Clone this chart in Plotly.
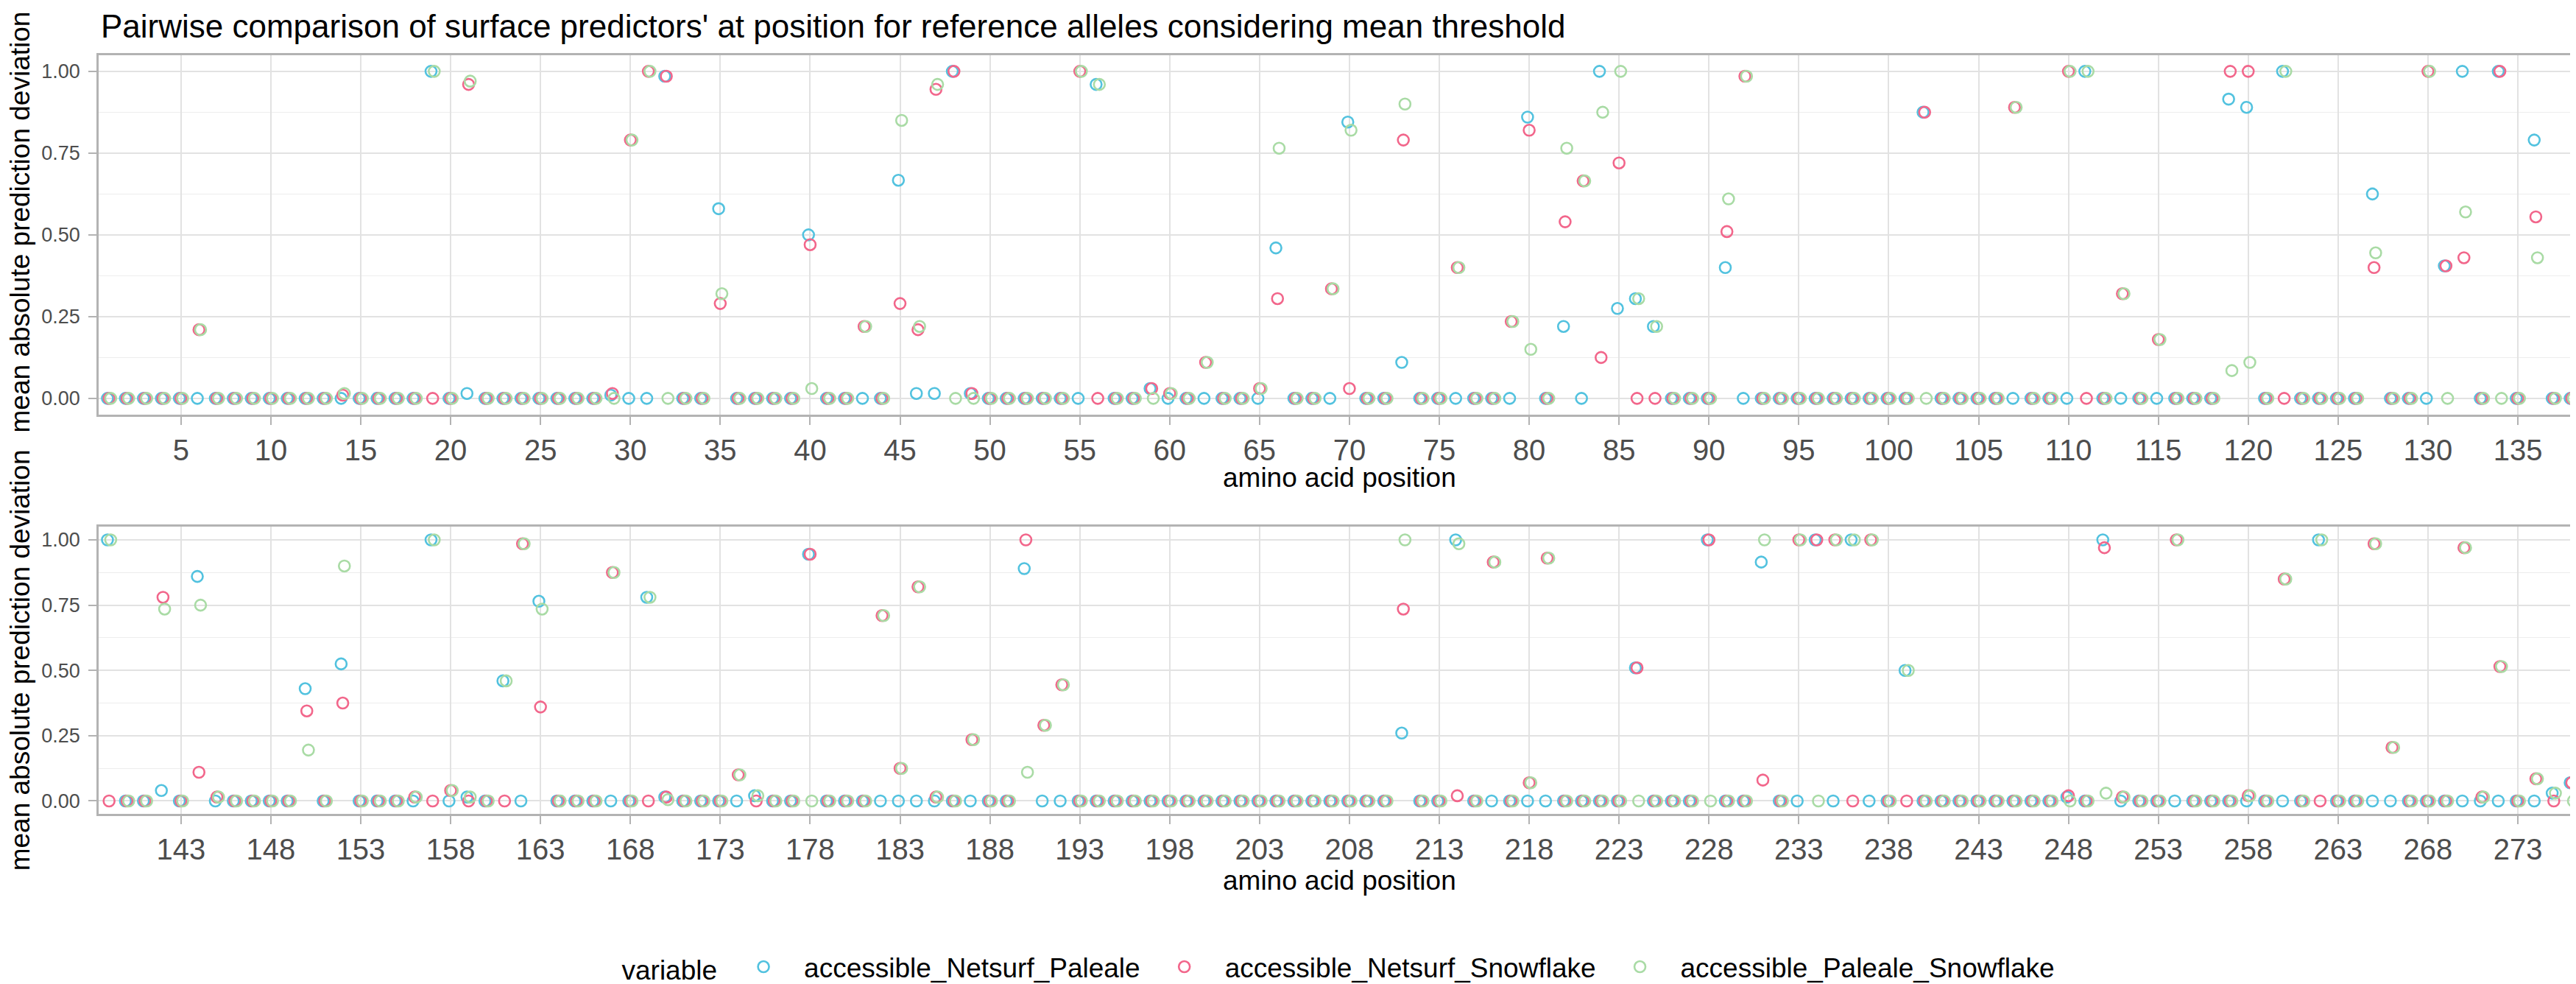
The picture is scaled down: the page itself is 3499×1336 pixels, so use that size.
import plotly.graph_objects as go

# ---------------- data ----------------
top_positions = list(range(1, 139))
bottom_positions = list(range(139, 277))

series_names = ["accessible_Netsurf_Paleale", "accessible_Netsurf_Snowflake", "accessible_Paleale_Snowflake"]
series_colors = ["#52C2DF", "#F2668B", "#A9DBA5"]

y_ticks = [0, 0.25, 0.5, 0.75, 1.0]
y_tick_labels = ["0.00", "0.25", "0.50", "0.75", "1.00"]
y_minor = [0.125, 0.375, 0.625, 0.875]

# positions 1..138
netsurf_paleale_top = [
    0, 0, 0, 0, 0, 0, 0, 0, 0, 0,
    0, 0, 0, 0, 0, 0, 0, 0, 1, 0,
    .015, 0, 0, 0, 0, 0, 0, 0, .01, 0,
    0, .985, 0, 0, .58, 0, 0, 0, 0, .50,
    0, 0, 0, 0, .667, .015, .015, 1, .015, 0,
    0, 0, 0, 0, 0, .96, 0, 0, .03, 0,
    0, 0, 0, 0, 0, .46, 0, 0, 0, .845,
    0, 0, .11, 0, 0, 0, 0, 0, 0, .86,
    0, .22, 0, 1, .275, .305, .22, 0, 0, 0,
    .40, 0, 0, 0, 0, 0, 0, 0, 0, 0,
    0, .875, 0, 0, 0, 0, 0, 0, 0, 0,
    1, 0, 0, 0, 0, 0, 0, 0, .915, .89,
    0, 1, 0, 0, 0, 0, .625, 0, 0, 0,
    .405, 1, 0, 1, 0, .79, 0, 0,
]
netsurf_snowflake_top = [
    0, 0, 0, 0, 0, .21, 0, 0, 0, 0,
    0, 0, 0, .01, 0, 0, 0, 0, 0, 0,
    .96, 0, 0, 0, 0, 0, 0, 0, .015, .79,
    1, .985, 0, 0, .29, 0, 0, 0, 0, .47,
    0, 0, .22, 0, .29, .21, .945, 1, .015, 0,
    0, 0, 0, 0, 1, 0, 0, 0, .03, .015,
    0, .11, 0, 0, .03, .305, 0, 0, .335, .03,
    0, 0, .79, 0, 0, .40, 0, 0, .235, .82,
    0, .54, .665, .125, .72, 0, 0, 0, 0, 0,
    .51, .985, 0, 0, 0, 0, 0, 0, 0, 0,
    0, .875, 0, 0, 0, 0, .89, 0, 0, 1,
    0, 0, .32, 0, .18, 0, 0, 0, 1, 1,
    0, 0, 0, 0, 0, 0, .40, 0, 0, 1,
    .405, .43, 0, 1, 0, .555, 0, 0,
]
paleale_snowflake_top = [
    0, 0, 0, 0, 0, .21, 0, 0, 0, 0,
    0, 0, 0, .015, 0, 0, 0, 0, 1, 0,
    .97, 0, 0, 0, 0, 0, 0, 0, 0, .79,
    1, 0, 0, 0, .32, 0, 0, 0, 0, .03,
    0, 0, .22, 0, .85, .22, .96, 0, 0, 0,
    0, 0, 0, 0, 1, .96, 0, 0, 0, .015,
    0, .11, 0, 0, .03, .765, 0, 0, .335, .82,
    0, 0, .90, 0, 0, .40, 0, 0, .235, .15,
    0, .765, .665, .875, 1, .305, .22, 0, 0, 0,
    .61, .985, 0, 0, 0, 0, 0, 0, 0, 0,
    0, 0, 0, 0, 0, 0, .89, 0, 0, 1,
    1, 0, .32, 0, .18, 0, 0, 0, .085, .11,
    0, 1, 0, 0, 0, 0, .445, 0, 0, 1,
    0, .57, 0, 0, 0, .43, 0, 0,
]

# positions 139..276
netsurf_paleale_bottom = [
    1, 0, 0, .04, 0, .86, 0, 0, 0, 0,
    0, .43, 0, .525, 0, 0, 0, 0, 1, 0,
    .015, 0, .46, 0, .765, 0, 0, 0, 0, 0,
    .78, .015, 0, 0, 0, 0, .02, 0, 0, .945,
    0, 0, 0, 0, 0, 0, 0, 0, 0, 0,
    0, .89, 0, 0, 0, 0, 0, 0, 0, 0,
    0, 0, 0, 0, 0, 0, 0, 0, 0, 0,
    0, 0, .26, 0, 0, 1, 0, 0, 0, 0,
    0, 0, 0, 0, 0, .51, 0, 0, 0, 1,
    0, 0, .915, 0, 0, 1, 0, 1, 0, 0,
    .50, 0, 0, 0, 0, 0, 0, 0, 0, .015,
    0, 1, 0, 0, 0, 0, 0, 0, 0, 0,
    0, 0, 0, 1, 0, 0, 0, 0, 0, 0,
    0, 0, 0, 0, 0, 0, .03, .07,
]
netsurf_snowflake_bottom = [
    0, 0, 0, .78, 0, .11, .015, 0, 0, 0,
    0, .345, 0, .375, 0, 0, 0, .015, 0, .04,
    0, 0, 0, .985, .36, 0, 0, 0, .875, 0,
    0, .015, 0, 0, 0, .10, 0, 0, 0, .945,
    0, 0, 0, .71, .125, .82, .015, 0, .235, 0,
    0, 1, .29, .445, 0, 0, 0, 0, 0, 0,
    0, 0, 0, 0, 0, 0, 0, 0, 0, 0,
    0, 0, .735, 0, 0, .02, 0, .915, 0, .07,
    .93, 0, 0, 0, 0, .51, 0, 0, 0, 1,
    0, 0, .08, 0, 1, 1, 1, 0, 1, 0,
    0, 0, 0, 0, 0, 0, 0, 0, 0, .02,
    0, .97, .015, 0, 0, 1, 0, 0, 0, .02,
    0, .85, 0, 0, 0, 0, .985, .205, 0, 0,
    0, .97, .015, .515, 0, .085, 0, .07,
]
paleale_snowflake_bottom = [
    1, 0, 0, .735, 0, .75, .015, 0, 0, 0,
    0, .195, 0, .90, 0, 0, 0, .015, 1, .04,
    .015, 0, .46, .985, .735, 0, 0, 0, .875, 0,
    .78, .005, 0, 0, 0, .10, .02, 0, 0, 0,
    0, 0, 0, .71, .125, .82, .015, 0, .235, 0,
    0, .11, .29, .445, 0, 0, 0, 0, 0, 0,
    0, 0, 0, 0, 0, 0, 0, 0, 0, 0,
    0, 0, 1, 0, 0, .985, 0, .915, 0, .07,
    .93, 0, 0, 0, 0, 0, 0, 0, 0, 0,
    0, 0, 1, 0, 1, 0, 1, 1, 1, 0,
    .50, 0, 0, 0, 0, 0, 0, 0, 0, 0,
    0, .03, .015, 0, 0, 1, 0, 0, 0, .02,
    0, .85, 0, 1, 0, 0, .985, .205, 0, 0,
    0, .97, .015, .515, 0, .085, .03, 0,
]

top_values = [netsurf_paleale_top, netsurf_snowflake_top, paleale_snowflake_top]
bottom_values = [netsurf_paleale_bottom, netsurf_snowflake_bottom, paleale_snowflake_bottom]

# ---------------- layout helpers ----------------
W, H = 3499, 1336
ML, MR = 126, 2
FONT = "Liberation Sans, Arial, Helvetica, sans-serif"


def py(p):
    return 1 - p / H


def px(p):
    return (p - ML) / (W - ML - MR)


dodge = [-0.09, 0.0, 0.09]

fig = go.Figure()
for i, name in enumerate(series_names):
    col = series_colors[i]
    mk = dict(symbol="circle-open", size=15, color=col, line=dict(width=2.6, color=col))
    fig.add_trace(go.Scatter(
        x=[p + dodge[i] for p in top_positions], y=top_values[i],
        mode="markers", name=name, legendgroup=name, marker=mk,
        xaxis="x", yaxis="y", showlegend=True, cliponaxis=False))
    fig.add_trace(go.Scatter(
        x=[p + dodge[i] for p in bottom_positions], y=bottom_values[i],
        mode="markers", name=name, legendgroup=name, marker=mk,
        xaxis="x2", yaxis="y2", showlegend=False, cliponaxis=False))

grid_col = "#E2E2E2"
border_col = "#B3B3B3"
tick_col = "#4D4D4D"


def yaxis(domain, anchor):
    return dict(
        domain=domain, anchor=anchor, range=[-0.05, 1.05],
        tickmode="array", tickvals=y_ticks, ticktext=y_tick_labels,
        ticks="outside", ticklen=11, tickwidth=2, tickcolor=border_col,
        tickfont=dict(size=27, color=tick_col, family=FONT),
        ticklabelstandoff=6,
        showgrid=True, gridcolor=grid_col, gridwidth=2.4,
        minor=dict(tickmode="array", tickvals=y_minor, showgrid=True,
                   gridcolor="#EDEDED", gridwidth=1.3, ticks=""),
        showline=True, linecolor=border_col, linewidth=2.5, mirror=True,
        zeroline=False, fixedrange=True,
    )


def xaxis(rng, tick0, anchor):
    return dict(
        domain=[0, 1], anchor=anchor, range=rng,
        tickmode="linear", tick0=tick0, dtick=5,
        ticks="outside", ticklen=11, tickwidth=2, tickcolor=border_col,
        tickfont=dict(size=40, color=tick_col, family=FONT),
        showgrid=True, gridcolor=grid_col, gridwidth=2,
        showline=True, linecolor=border_col, linewidth=2.5, mirror=True,
        zeroline=False,
    )


fig.update_layout(
    width=W, height=H,
    margin=dict(l=ML, r=MR, t=0, b=0),
    paper_bgcolor="white", plot_bgcolor="white",
    font=dict(family=FONT, color="black"),
    showlegend=True,
    xaxis=xaxis([0.42, 138.48], 0, "y"),
    yaxis=yaxis([py(558), py(67)], "x"),
    xaxis2=xaxis([138.42, 276.48], 143, "y2"),
    yaxis2=yaxis([py(1103), py(711)], "x2"),
    legend=dict(
        orientation="h", x=0.5, xanchor="center", y=py(1312), yanchor="middle",
        title=dict(text="variable", font=dict(size=37, color="black", family=FONT)),
        font=dict(size=37, color="black", family=FONT),
        itemwidth=100, bgcolor="rgba(0,0,0,0)",
    ),
    annotations=[
        dict(text="Pairwise comparison of surface predictors' at position for reference alleles considering mean threshold",
             x=px(127), y=py(1), xref="paper", yref="paper", xanchor="left", yanchor="top",
             showarrow=False, font=dict(size=44, color="black", family=FONT)),
        dict(text="amino acid position", x=0.5, y=py(644), xref="paper", yref="paper",
             xanchor="center", yanchor="middle", showarrow=False,
             font=dict(size=37, color="black", family=FONT)),
        dict(text="amino acid position", x=0.5, y=py(1194), xref="paper", yref="paper",
             xanchor="center", yanchor="middle", showarrow=False,
             font=dict(size=37, color="black", family=FONT)),
        dict(text="mean absolute prediction deviation", x=px(19), y=py(295), xref="paper", yref="paper",
             xanchor="center", yanchor="middle", textangle=-90, showarrow=False,
             font=dict(size=37, color="black", family=FONT)),
        dict(text="mean absolute prediction deviation", x=px(19), y=py(893), xref="paper", yref="paper",
             xanchor="center", yanchor="middle", textangle=-90, showarrow=False,
             font=dict(size=37, color="black", family=FONT)),
    ],
)

fig.write_html("out.html")
